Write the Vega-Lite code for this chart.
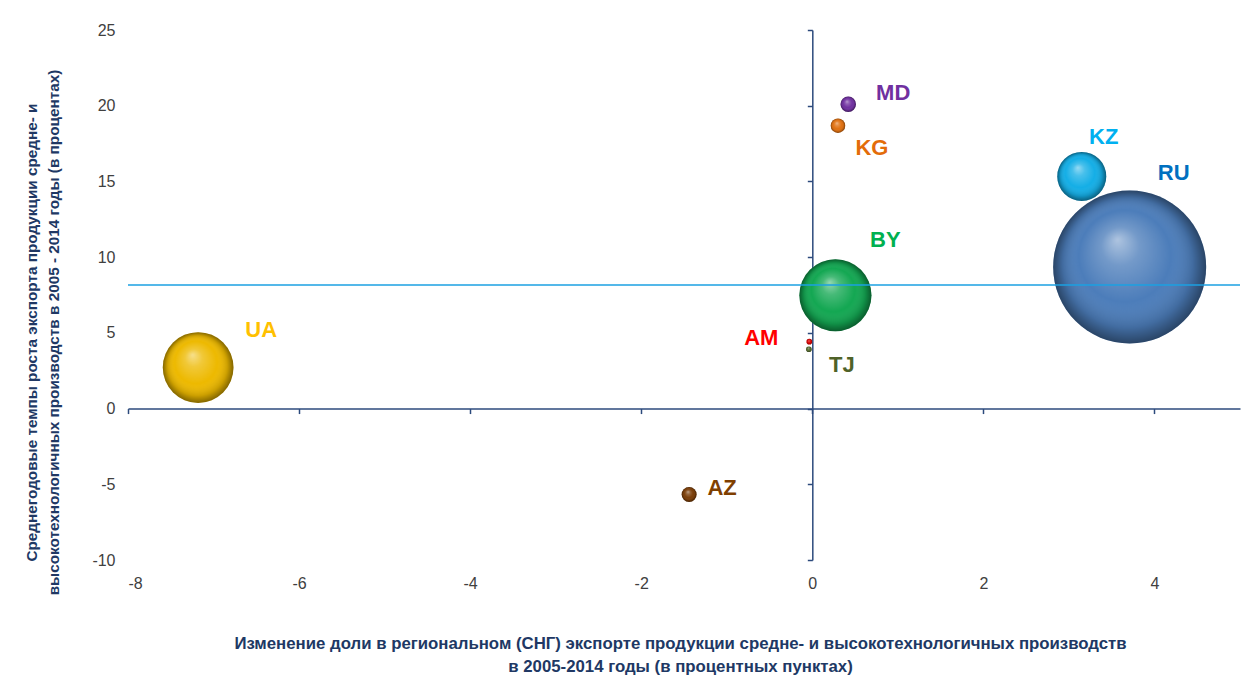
{
  "$schema": "https://vega.github.io/schema/vega-lite/v6.json",
  "width": 1112,
  "height": 530,
  "autosize": {"type": "none"},
  "padding": {"left": 128, "top": 30, "right": 17, "bottom": 121},
  "background": "white",
  "config": {
    "view": {"stroke": null},
    "text": {"font": "Liberation Sans", "fontSize": 22, "fontWeight": "bold", "align": "center", "baseline": "middle"}
  },
  "datasets": {
    "cis": [
      {"code": "UA", "share_change": -7.18, "growth": 2.71, "weight": 12.5},
      {"code": "AZ", "share_change": -1.44, "growth": -5.67, "weight": 0.56},
      {"code": "AM", "share_change": -0.035, "growth": 4.42, "weight": 0.08},
      {"code": "TJ", "share_change": -0.04, "growth": 3.92, "weight": 0.08},
      {"code": "BY", "share_change": 0.27, "growth": 7.48, "weight": 13.0},
      {"code": "KG", "share_change": 0.30, "growth": 18.68, "weight": 0.53},
      {"code": "MD", "share_change": 0.42, "growth": 20.1, "weight": 0.6},
      {"code": "KZ", "share_change": 3.15, "growth": 15.33, "weight": 6.0},
      {"code": "RU", "share_change": 3.71, "growth": 9.35, "weight": 58.5}
    ],
    "avg": [{"avg_growth": 8.16}]
  },
  "data": {"name": "cis"},
  "resolve": {"axis": {"x": "independent", "y": "independent"}},
  "layer": [
    {
      "mark": {"type": "circle", "opacity": 1, "stroke": null},
      "encoding": {
        "x": {"field": "share_change", "type": "quantitative", "scale": {"domain": [-8, 5], "nice": false, "zero": false},
          "axis": {"orient": "bottom", "values": [-8, -6, -4, -2, 0, 2, 4], "domain": false, "ticks": false, "tickSize": 0, "grid": false,
            "labelExpr": "toString(datum.value)",
            "labelFont": "Liberation Sans", "labelFontSize": 16, "labelColor": "#404040", "labelPadding": 15,
            "title": ["Изменение доли в региональном (СНГ) экспорте продукции средне- и высокотехнологичных производств", "в 2005-2014 годы (в  процентных пунктах)"],
            "titleFont": "Liberation Sans", "titleFontSize": 16.8, "titleFontWeight": "bold", "titleColor": "#203864",
            "titleLineHeight": 23, "titleX": 552, "titleY": 83, "titleBaseline": "middle", "titleAlign": "center", "titleAnchor": "middle"}},
        "y": {"field": "growth", "type": "quantitative", "scale": {"domain": [-10, 25], "nice": false, "zero": false},
          "axis": {"orient": "left", "values": [-10, -5, 0, 5, 10, 15, 20, 25], "domain": false, "ticks": false, "tickSize": 0, "grid": false,
            "labelExpr": "toString(datum.value)",
            "labelFont": "Liberation Sans", "labelFontSize": 16, "labelColor": "#404040", "labelPadding": 13,
            "title": ["Среднегодовые темпы роста экспорта продукции средне- и", "высокотехнологичных производств в 2005 - 2014 годы (в процентах)"],
            "titleFont": "Liberation Sans", "titleFontSize": 15.3, "titleFontWeight": "bold", "titleColor": "#203864",
            "titleLineHeight": 22, "titleX": -97, "titleY": 302, "titleAngle": -90, "titleBaseline": "middle", "titleAlign": "center", "titleAnchor": "middle"}},
        "size": {"field": "weight", "type": "quantitative", "scale": {"domain": [0, 58.5], "range": [0, 23409], "zero": true}, "legend": null},
        "color": {"field": "code", "type": "nominal",
          "scale": {"domain": ["UA", "AZ", "AM", "TJ", "BY", "KG", "MD", "KZ", "RU"],
            "range": ["#EDB900", "#7A3D07", "#E00000", "#556B2F", "#13A752", "#E07010", "#7030A0", "#14AEE6", "#4C7DBA"]},
          "legend": null}
      }
    },
    {
      "mark": {"type": "circle", "opacity": 1, "stroke": null,
        "fill": {"gradient": "radial", "x1": 0.42, "y1": 0.32, "r1": 0, "x2": 0.5, "y2": 0.5, "r2": 0.5,
          "stops": [
            {"offset": 0, "color": "rgba(255,255,255,0.55)"},
            {"offset": 0.25, "color": "rgba(255,255,255,0.22)"},
            {"offset": 0.6, "color": "rgba(255,255,255,0)"},
            {"offset": 0.85, "color": "rgba(0,0,0,0.14)"},
            {"offset": 1, "color": "rgba(0,0,0,0.45)"}
          ]}},
      "encoding": {
        "x": {"field": "share_change", "type": "quantitative", "scale": {"domain": [-8, 5], "nice": false, "zero": false},
          "axis": {"orient": "bottom", "offset": -151.43, "values": [-8, -6, -4, -2, 0, 2, 4], "labels": false, "grid": false, "title": null,
            "domain": true, "domainColor": "#2C4A7C", "domainWidth": 1.5, "ticks": true, "tickColor": "#2C4A7C", "tickWidth": 1.5, "tickSize": 5}},
        "y": {"field": "growth", "type": "quantitative", "scale": {"domain": [-10, 25], "nice": false, "zero": false},
          "axis": {"orient": "left", "offset": -684.31, "values": [-10, -5, 0, 5, 10, 15, 20, 25], "labels": false, "grid": false, "title": null,
            "domain": true, "domainColor": "#2C4A7C", "domainWidth": 1.5, "ticks": true, "tickColor": "#2C4A7C", "tickWidth": 1.5, "tickSize": 5}},
        "size": {"field": "weight", "type": "quantitative", "legend": null}
      }
    },
    {
      "data": {"name": "avg"},
      "mark": {"type": "rule", "color": "#1BA1E2", "strokeWidth": 1.5},
      "encoding": {
        "y": {"field": "avg_growth", "type": "quantitative", "scale": {"domain": [-10, 25], "nice": false, "zero": false}, "axis": null}
      }
    },
    {
      "transform": [{"filter": "datum.code === 'MD'"}],
      "mark": {"type": "text", "dx": 45, "dy": -11, "color": "#7030A0"},
      "encoding": {
        "x": {"field": "share_change", "type": "quantitative", "axis": null},
        "y": {"field": "growth", "type": "quantitative", "axis": null},
        "text": {"field": "code"}
      }
    },
    {
      "transform": [{"filter": "datum.code === 'KG'"}],
      "mark": {"type": "text", "dx": 34, "dy": 22, "color": "#E36C09"},
      "encoding": {
        "x": {"field": "share_change", "type": "quantitative", "axis": null},
        "y": {"field": "growth", "type": "quantitative", "axis": null},
        "text": {"field": "code"}
      }
    },
    {
      "transform": [{"filter": "datum.code === 'BY'"}],
      "mark": {"type": "text", "dx": 50, "dy": -55, "color": "#00B050"},
      "encoding": {
        "x": {"field": "share_change", "type": "quantitative", "axis": null},
        "y": {"field": "growth", "type": "quantitative", "axis": null},
        "text": {"field": "code"}
      }
    },
    {
      "transform": [{"filter": "datum.code === 'AM'"}],
      "mark": {"type": "text", "dx": -48, "dy": -4, "color": "#FF0000"},
      "encoding": {
        "x": {"field": "share_change", "type": "quantitative", "axis": null},
        "y": {"field": "growth", "type": "quantitative", "axis": null},
        "text": {"field": "code"}
      }
    },
    {
      "transform": [{"filter": "datum.code === 'TJ'"}],
      "mark": {"type": "text", "dx": 33, "dy": 16, "color": "#4F6228"},
      "encoding": {
        "x": {"field": "share_change", "type": "quantitative", "axis": null},
        "y": {"field": "growth", "type": "quantitative", "axis": null},
        "text": {"field": "code"}
      }
    },
    {
      "transform": [{"filter": "datum.code === 'KZ'"}],
      "mark": {"type": "text", "dx": 22, "dy": -39, "color": "#00B0F0"},
      "encoding": {
        "x": {"field": "share_change", "type": "quantitative", "axis": null},
        "y": {"field": "growth", "type": "quantitative", "axis": null},
        "text": {"field": "code"}
      }
    },
    {
      "transform": [{"filter": "datum.code === 'RU'"}],
      "mark": {"type": "text", "dx": 44, "dy": -94, "color": "#0070C0"},
      "encoding": {
        "x": {"field": "share_change", "type": "quantitative", "axis": null},
        "y": {"field": "growth", "type": "quantitative", "axis": null},
        "text": {"field": "code"}
      }
    },
    {
      "transform": [{"filter": "datum.code === 'UA'"}],
      "mark": {"type": "text", "dx": 63, "dy": -38, "color": "#FFC000"},
      "encoding": {
        "x": {"field": "share_change", "type": "quantitative", "axis": null},
        "y": {"field": "growth", "type": "quantitative", "axis": null},
        "text": {"field": "code"}
      }
    },
    {
      "transform": [{"filter": "datum.code === 'AZ'"}],
      "mark": {"type": "text", "dx": 33, "dy": -6, "color": "#7F3F00"},
      "encoding": {
        "x": {"field": "share_change", "type": "quantitative", "axis": null},
        "y": {"field": "growth", "type": "quantitative", "axis": null},
        "text": {"field": "code"}
      }
    }
  ]
}
